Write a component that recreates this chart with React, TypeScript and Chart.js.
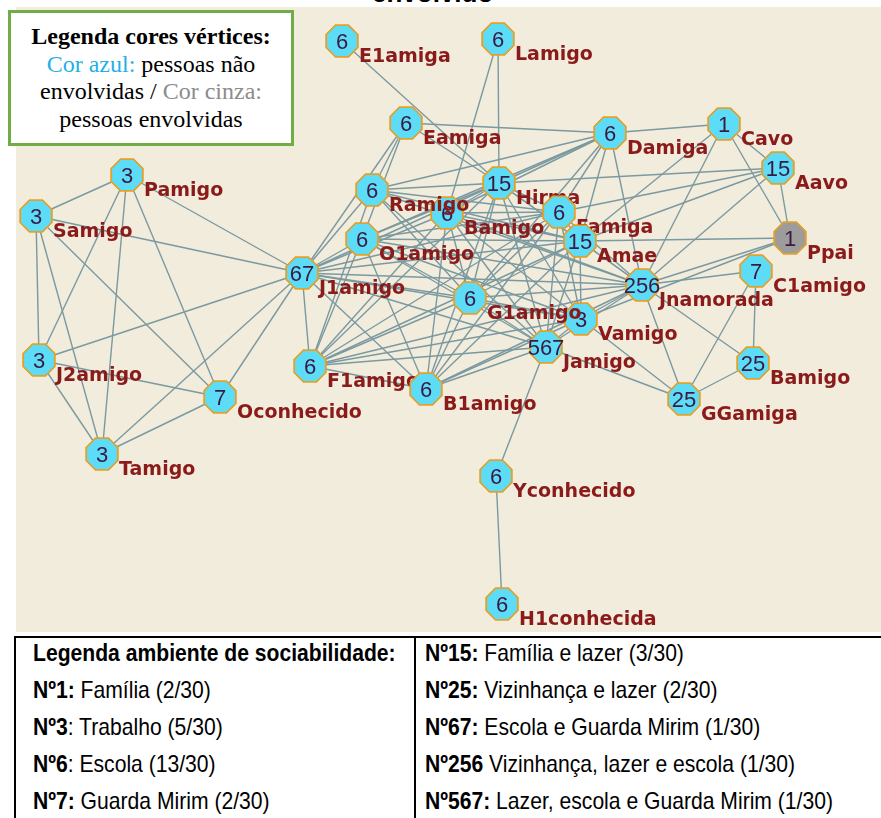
import React, { useEffect, useRef } from 'react';
import { Chart, registerables } from 'chart.js';
Chart.register(...registerables);

// Node ids (draw order), labels, sociability codes, layout coordinates
const nodeIds = ['E1','L','Ea','D','C','A','P','S','Bu','H','R','F','M','O1','Pp','C1','J1','Jn','V','G1','Jm','J2','F1','B1','Br','Oc','GG','T','Y','H1'];
const nodeLabels = ['E1amiga','Lamigo','Eamiga','Damiga','Cavo','Aavo','Pamigo','Samigo','Bamigo','Hirma','Ramigo','Famiga','Amae','O1amigo','Ppai','C1amigo','J1amigo','Jnamorada','Vamigo','G1amigo','Jamigo','J2amigo','F1amigo','B1amigo','Bamigo','Oconhecido','GGamiga','Tamigo','Yconhecido','H1conhecida'];
const nodeCodes = ['6','6','6','6','1','15','3','3','6','15','6','6','15','6','1','7','67','256','3','6','567','3','6','6','25','7','25','3','6','6'];
const nodeInvolved = [false,false,false,false,false,false,false,false,false,false,false,false,false,false,true,false,false,false,false,false,false,false,false,false,false,false,false,false,false,false];
const nodeX = [326,482,390,594,708,762,111,20,431,483,356,543,564,346,774,740,286,626,565,454,530,23,294,410,737,204,668,86,480,486];
const nodeY = [34,32,116,126,117,161,168,209,206,176,183,205,234,232,231,264,266,278,312,291,340,353,359,382,356,390,392,447,469,597];

const edges: [string, string][] = [
  ['P','S'],['P','J1'],['S','J1'],['P','J2'],['P','T'],['P','Oc'],['S','J2'],['S','T'],['S','Oc'],
  ['J2','T'],['J2','Oc'],['J2','J1'],['T','Oc'],['T','J1'],['Oc','J1'],
  ['E1','H'],['L','H'],['L','Bu'],['Ea','D'],['Ea','H'],['Ea','R'],['Ea','O1'],['Ea','J1'],
  ['D','H'],['D','R'],['D','Bu'],['D','O1'],['D','F'],['D','M'],['D','Jn'],['D','G1'],['D','C'],
  ['C','A'],['C','Pp'],['C','Jn'],['C','M'],
  ['A','H'],['A','M'],['A','Jn'],['A','Pp'],['A','F'],
  ['Pp','M'],['Pp','Jn'],['Pp','V'],
  ['C1','Jn'],['C1','GG'],['C1','Br'],['Br','Jn'],['Br','GG'],
  ['GG','Jn'],['GG','Jm'],['GG','V'],['Y','Jm'],['Y','H1'],
  ['H','R'],['H','Bu'],['H','F'],['H','O1'],['H','M'],['H','J1'],['H','Jn'],['H','G1'],['H','V'],['H','Jm'],['H','F1'],['H','B1'],
  ['R','J1'],['R','F'],['R','M'],['R','Jn'],['R','G1'],['R','F1'],['R','Jm'],
  ['Bu','J1'],['Bu','F'],['Bu','M'],['Bu','Jn'],['Bu','G1'],['Bu','V'],['Bu','Jm'],['Bu','F1'],['Bu','B1'],
  ['F','O1'],['F','M'],['F','Jn'],['F','G1'],['F','V'],['F','Jm'],['F','F1'],['F','B1'],['F','J1'],
  ['O1','J1'],['O1','M'],['O1','Jn'],['O1','G1'],['O1','V'],['O1','Jm'],['O1','F1'],['O1','B1'],
  ['M','J1'],['M','Jn'],['M','G1'],['M','V'],['M','Jm'],['M','F1'],['M','B1'],
  ['J1','Jn'],['J1','G1'],['J1','V'],['J1','Jm'],['J1','F1'],['J1','B1'],
  ['Jn','G1'],['Jn','V'],['Jn','Jm'],['Jn','F1'],['Jn','B1'],
  ['G1','V'],['G1','Jm'],['G1','F1'],['G1','B1'],
  ['V','Jm'],['V','F1'],['V','B1'],['Jm','F1'],['Jm','B1'],['F1','B1'],
];

const legendLeft = [
  [{ b: 'Legenda ambiente de sociabilidade:', r: '' }],
  [{ b: 'Nº1:', r: ' Família (2/30)' }],
  [{ b: 'Nº3', r: ': Trabalho (5/30)' }],
  [{ b: 'Nº6', r: ': Escola (13/30)' }],
  [{ b: 'Nº7:', r: ' Guarda Mirim (2/30)' }],
];
const legendRight = [
  [{ b: 'Nº15:', r: ' Família e lazer (3/30)' }],
  [{ b: 'Nº25:', r: ' Vizinhança e lazer (2/30)' }],
  [{ b: 'Nº67:', r: ' Escola e Guarda Mirim (1/30)' }],
  [{ b: 'Nº256', r: ' Vizinhança, lazer e escola (1/30)' }],
  [{ b: 'Nº567:', r: ' Lazer, escola e Guarda Mirim (1/30)' }],
];

const W = 865, H = 625;
const OCT_R = 17;

function makeOctagon(fill: string): HTMLCanvasElement {
  const c = document.createElement('canvas');
  const s = 40;
  c.width = s; c.height = s;
  const ctx = c.getContext('2d')!;
  ctx.beginPath();
  for (let k = 0; k < 8; k++) {
    const a = (Math.PI / 8) + k * Math.PI / 4;
    const px = s / 2 + OCT_R * Math.cos(a);
    const py = s / 2 + OCT_R * Math.sin(a);
    if (k === 0) ctx.moveTo(px, py); else ctx.lineTo(px, py);
  }
  ctx.closePath();
  ctx.fillStyle = fill;
  ctx.fill();
  ctx.lineWidth = 1.6;
  ctx.strokeStyle = '#e2a12a';
  ctx.stroke();
  return c;
}

export default function App() {
  const ref = useRef<HTMLCanvasElement | null>(null);
  useEffect(() => {
    if (!ref.current) return;
    const blue = makeOctagon('#5cdcf6');
    const gray = makeOctagon('#9c9c9c');
    const styles = nodeInvolved.map((v) => (v ? gray : blue));
    const idx: Record<string, number> = {};
    nodeIds.forEach((id, i) => (idx[id] = i));

    const edgePlugin = {
      id: 'edges',
      beforeDatasetsDraw(chart: any) {
        const { ctx, scales } = chart;
        ctx.save();
        ctx.strokeStyle = '#7a99a0';
        ctx.lineWidth = 1.4;
        edges.forEach(([a, b]) => {
          const i = idx[a], j = idx[b];
          ctx.beginPath();
          ctx.moveTo(scales.x.getPixelForValue(nodeX[i]), scales.y.getPixelForValue(nodeY[i]));
          ctx.lineTo(scales.x.getPixelForValue(nodeX[j]), scales.y.getPixelForValue(nodeY[j]));
          ctx.stroke();
        });
        ctx.restore();
      },
    };
    const labelPlugin = {
      id: 'nodeLabels',
      afterDatasetsDraw(chart: any) {
        const { ctx } = chart;
        const meta = chart.getDatasetMeta(0);
        ctx.save();
        meta.data.forEach((pt: any, i: number) => {
          const x = pt.x, y = pt.y;
          const img = styles[i];
          ctx.drawImage(img, x - img.width / 2, y - img.height / 2);
          ctx.fillStyle = '#3a1a44';
          ctx.font = '22px "Liberation Sans", Arial, sans-serif';
          ctx.textAlign = 'center';
          ctx.textBaseline = 'alphabetic';
          ctx.fillText(nodeCodes[i], x, y + 8);
          ctx.fillStyle = '#8b1a1a';
          ctx.font = 'bold 19px "DejaVu Sans", sans-serif';
          ctx.textAlign = 'left';
          ctx.fillText(nodeLabels[i], x + 17, y + 21);
        });
        ctx.restore();
      },
    };

    const chart = new Chart(ref.current, {
      type: 'scatter',
      data: {
        datasets: [
          {
            data: nodeX.map((x, i) => ({ x, y: nodeY[i] })),
            pointStyle: styles as any,
            pointRadius: 17,
            pointHoverRadius: 17,
          },
        ],
      },
      options: {
        animation: false,
        responsive: false,
        maintainAspectRatio: false,
        devicePixelRatio: 1,
        layout: { padding: 0, autoPadding: false } as any,
        events: [],
        clip: false as any,
        scales: {
          x: { type: 'linear', min: 0, max: W, display: false },
          y: { type: 'linear', min: 0, max: H, reverse: true, display: false },
        },
        plugins: { legend: { display: false }, tooltip: { enabled: false } },
      },
      plugins: [edgePlugin, labelPlugin],
    });
    return () => chart.destroy();
  }, []);

  const renderCol = (rows: { b: string; r: string }[][], left: number) => (
    <div style={{ position: 'absolute', left, top: 634, fontFamily: '"Liberation Sans", Arial, sans-serif', fontSize: 24, lineHeight: '37px', color: '#000', whiteSpace: 'nowrap', transform: 'scaleX(0.88)', transformOrigin: 'left top' }}>
      {rows.map((row, i) => (
        <div key={i} style={{ height: 37 }}>
          {row.map((s, k) => (
            <span key={k}><b>{s.b}</b>{s.r}</span>
          ))}
        </div>
      ))}
    </div>
  );

  return (
    <div style={{ position: 'absolute', left: 0, top: 0, width: 881, height: 818, background: '#fff', overflow: 'hidden' }}>
      <div style={{ position: 'absolute', left: 0, top: 0, width: 881, height: 7, overflow: 'hidden' }}>
        <div style={{ position: 'absolute', left: 372, top: -20, fontFamily: '"Liberation Sans", Arial, sans-serif', fontWeight: 'bold', fontSize: 26, color: '#000', lineHeight: '26px' }}>envolvido</div>
      </div>
      <div style={{ position: 'absolute', left: 16, top: 7, width: W, height: H, background: '#f2ecdc' }}>
        <canvas ref={ref} width={W} height={H} style={{ display: 'block', width: W, height: H }} />
      </div>
      <div style={{ position: 'absolute', left: 8, top: 10, width: 286, height: 136, boxSizing: 'border-box', border: '3px solid #70ad47', background: '#fff', textAlign: 'center', fontFamily: '"Liberation Serif", "Times New Roman", serif', fontSize: 24, lineHeight: '27.5px', paddingTop: 10, color: '#000' }}>
        <div style={{ fontWeight: 'bold' }}>Legenda cores vértices:</div>
        <div><span style={{ color: '#1fb0e6' }}>Cor azul:</span> pessoas não</div>
        <div>envolvidas / <span style={{ color: '#8c8c8c' }}>Cor cinza:</span></div>
        <div>pessoas envolvidas</div>
      </div>
      <div style={{ position: 'absolute', left: 14, top: 636, width: 900, height: 200, boxSizing: 'border-box', border: '2px solid #000' }} />
      <div style={{ position: 'absolute', left: 414, top: 636, width: 2, height: 190, background: '#000' }} />
      {renderCol(legendLeft, 33)}
      {renderCol(legendRight, 425)}
    </div>
  );
}
